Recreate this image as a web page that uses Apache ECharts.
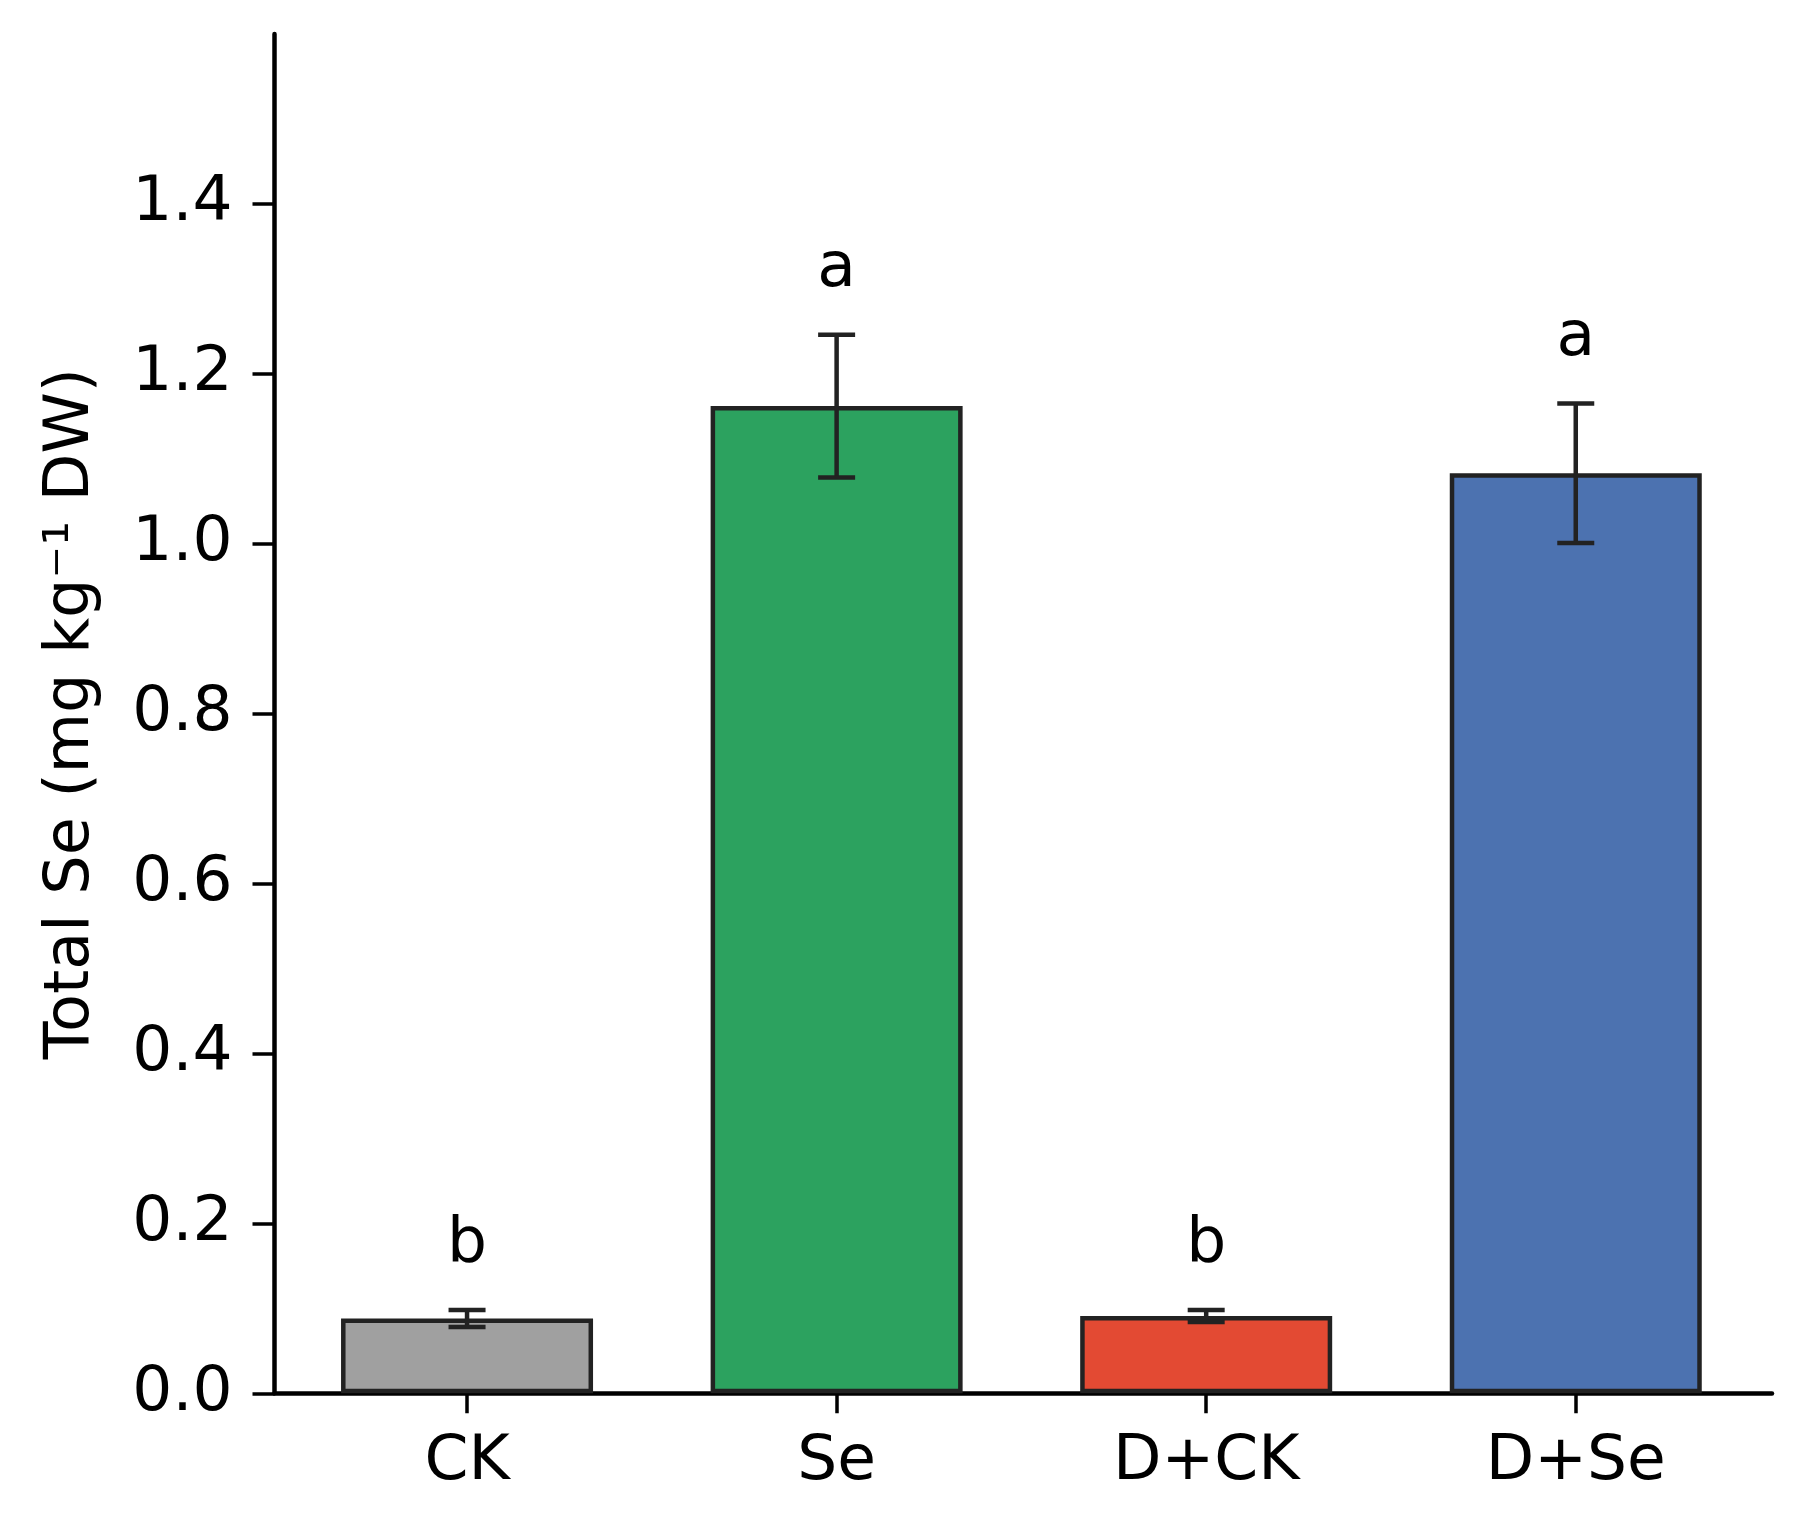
<!DOCTYPE html>
<html>
<head>
<meta charset="utf-8">
<script src="https://cdn.jsdelivr.net/npm/echarts@6/dist/echarts.min.js"></script>
<style>
html,body{margin:0;padding:0;background:#fff;}
#chart{width:1795px;height:1516px;}
</style>
</head>
<body>
<div id="chart"></div>
<script>
// ---- data ----
var categories = ['CK', 'Se', 'D+CK', 'D+Se'];
var means = [0.088, 1.162, 0.091, 1.083];
var errors = [0.010, 0.084, 0.007, 0.082];
var letters = ['b', 'a', 'b', 'a'];
var yTicks = [0, 0.2, 0.4, 0.6, 0.8, 1.0, 1.2, 1.4];
var xTicks = [0, 1, 2, 3];
var yTitle = 'Total Se (mg kg\u207B\u00B9 DW)';

// ---- styles ----
var barColors = ['#a0a0a0', '#2ca25f', '#e34a33', '#4c72b0'];
var FONT = 'DejaVu Sans';
var INK = '#222222';

var chart = echarts.init(document.getElementById('chart'), null, {renderer: 'canvas'});

var barData = means.map(function (m, i) {
  return {value: [xTicks[i], m], itemStyle: {color: barColors[i]}};
});
var errData = means.map(function (m, i) {
  return [xTicks[i], m, errors[i]];
});

var option = {
  animation: false,
  backgroundColor: '#ffffff',
  grid: {left: 274.5, right: 23, top: 34, bottom: 122.7, containLabel: false},
  xAxis: {
    type: 'value',
    min: -0.521,
    max: 3.531,
    splitLine: {show: false},
    axisLine: {show: true, onZero: false, lineStyle: {color: '#000', width: 4.5}},
    axisTick: {show: true, customValues: xTicks, length: 20, lineStyle: {color: '#000', width: 3.5}},
    axisLabel: {
      show: true, customValues: xTicks, margin: 38,
      color: '#000', fontFamily: FONT, fontSize: 63,
      formatter: function (v) { return categories[Math.round(v)]; }
    }
  },
  yAxis: {
    type: 'value',
    min: 0,
    max: 1.6,
    splitLine: {show: false},
    axisLine: {show: true, onZero: false, lineStyle: {color: '#000', width: 4.5}},
    axisTick: {show: true, customValues: yTicks, length: 22, lineStyle: {color: '#000', width: 3.5}},
    axisLabel: {
      show: true, customValues: yTicks, margin: 42,
      color: '#000', fontFamily: FONT, fontSize: 63,
      padding: [14, 0, 0, 0],
      formatter: function (v) { return Number(v).toFixed(1); }
    },
    name: yTitle,
    nameLocation: 'middle',
    nameRotate: 90,
    nameGap: 172,
    nameTextStyle: {color: '#000', fontFamily: FONT, fontSize: 62}
  },
  series: [
    {
      type: 'bar',
      data: barData,
      barWidth: 252,
      itemStyle: {borderColor: INK, borderWidth: 4.5},
      z: 2
    },
    {
      type: 'custom',
      data: errData,
      z: 5,
      clip: false,
      renderItem: function (params, api) {
        var x = api.value(0), y = api.value(1), e = api.value(2);
        var top = api.coord([x, y + e]);
        var bot = api.coord([x, y - e]);
        var half = 18.5;
        var st = {stroke: INK, lineWidth: 4.5};
        return {
          type: 'group',
          children: [
            {type: 'line', shape: {x1: top[0], y1: top[1], x2: bot[0], y2: bot[1]}, style: st},
            {type: 'line', shape: {x1: top[0] - half, y1: top[1], x2: top[0] + half, y2: top[1]}, style: st},
            {type: 'line', shape: {x1: bot[0] - half, y1: bot[1], x2: bot[0] + half, y2: bot[1]}, style: st},
            {type: 'text', x: top[0], y: top[1] - 65,
              style: {text: letters[params.dataIndex], fill: '#000', font: '63px "DejaVu Sans"',
                align: 'center', verticalAlign: 'middle'}}
          ]
        };
      }
    }
  ]
};
chart.setOption(option);
</script>
</body>
</html>
